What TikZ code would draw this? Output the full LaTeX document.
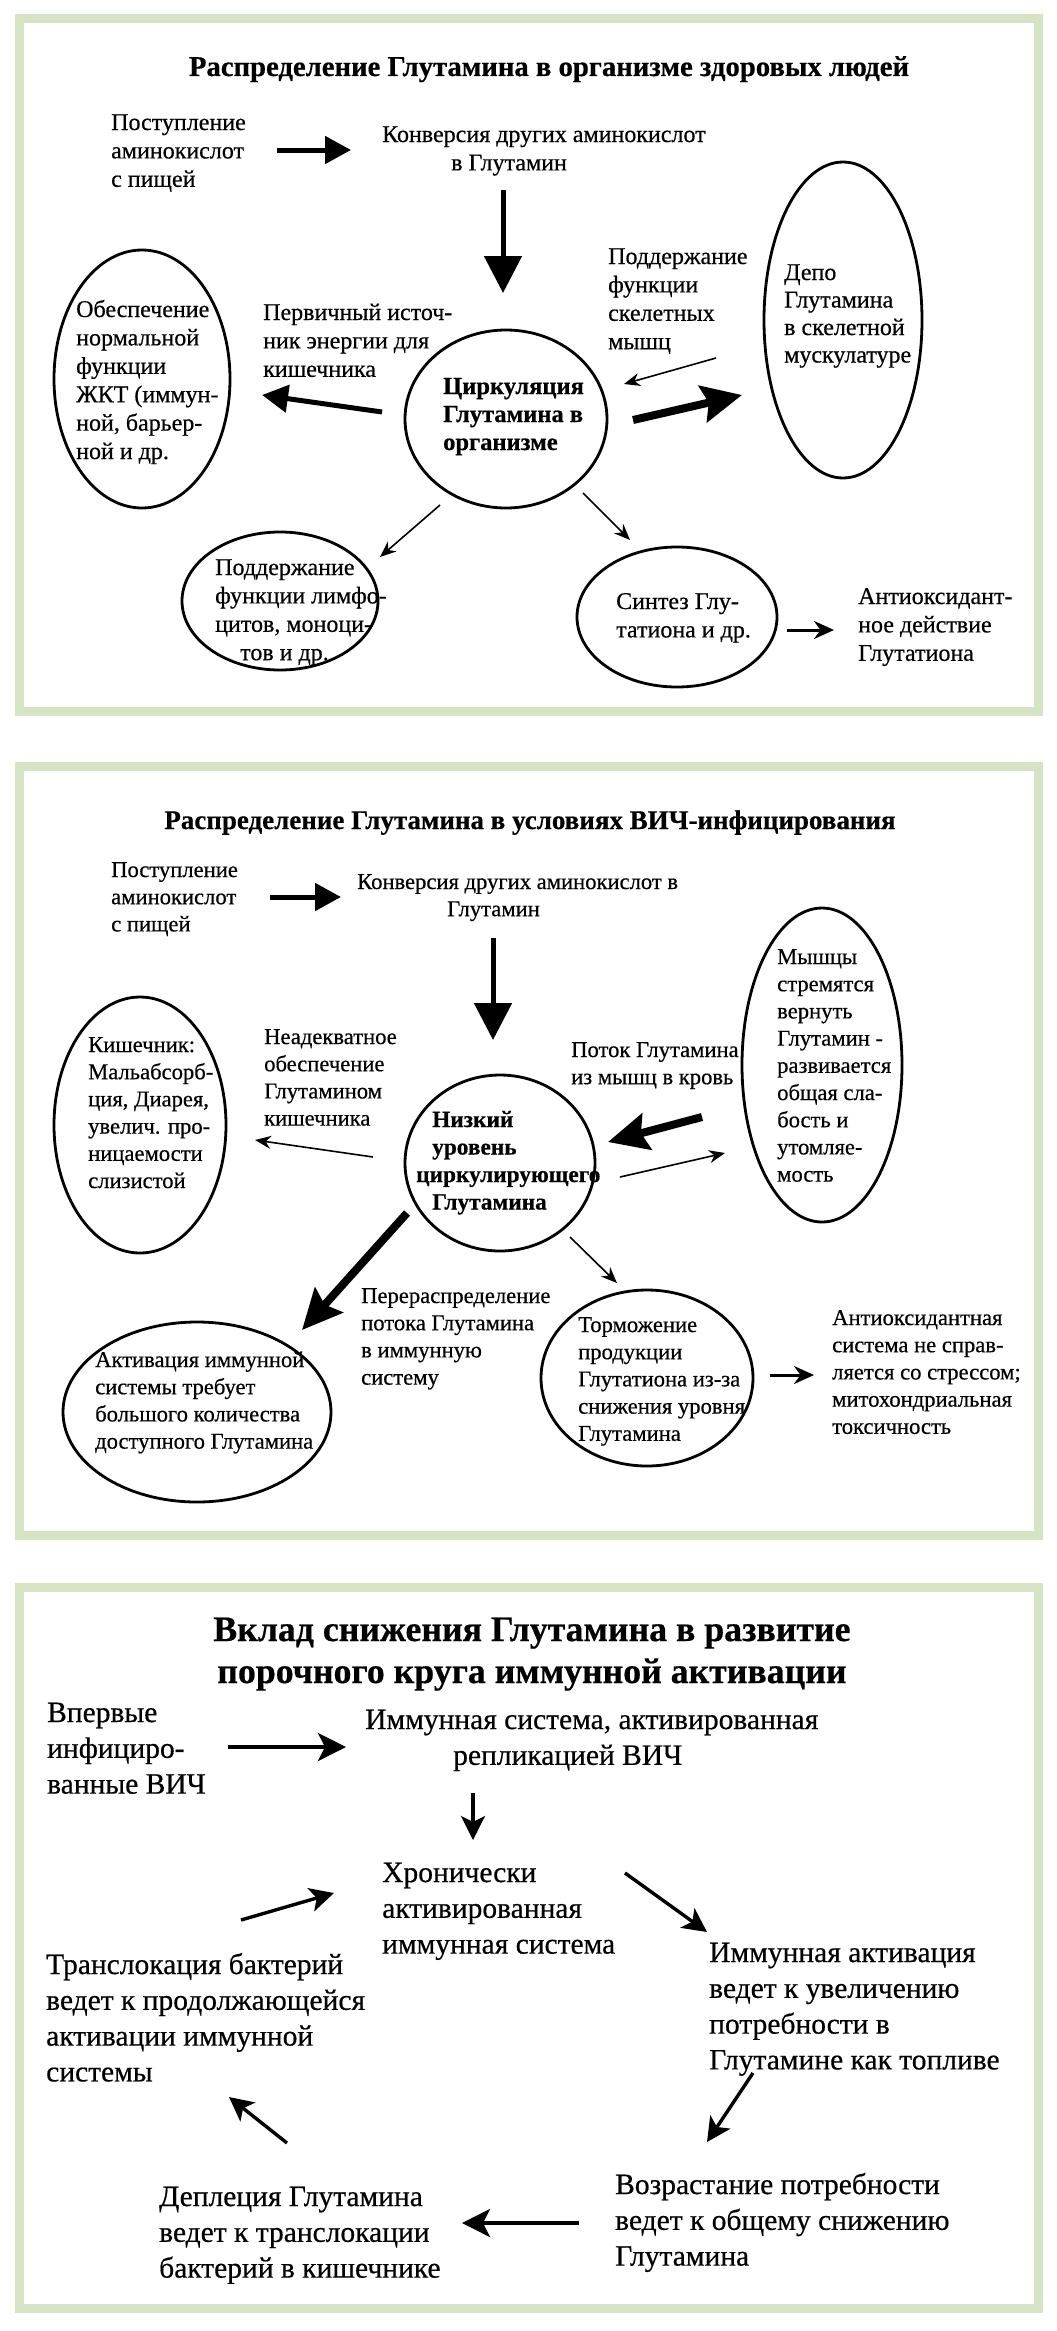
\documentclass[tikz,border=0pt]{standalone}
\usepackage{fontspec}
\setmainfont{Liberation Serif}[FakeBold=0.5]
\usetikzlibrary{arrows.meta,shapes.geometric}
\definecolor{panelgreen}{RGB}{214,227,196}
\newcommand\TL[1]{\begin{tabular}[t]{@{}l@{}}#1\end{tabular}}
\newcommand\TC[1]{\begin{tabular}[t]{@{}c@{}}#1\end{tabular}}
\newcommand\fA{\fontsize{24}{28.4}\selectfont}
\newcommand\fAr{\fontsize{24}{27.5}\selectfont}
\newcommand\fAb{\fontsize{24.5}{28}\selectfont\bfseries}
\newcommand\fB{\fontsize{22.6}{27.2}\selectfont}
\newcommand\fBb{\fontsize{23.3}{27.5}\selectfont\bfseries}
\newcommand\fC{\fontsize{29.5}{35.8}\selectfont}
\newcommand\fTa{\fontsize{28.7}{30}\selectfont\bfseries}
\newcommand\fTb{\fontsize{27}{30}\selectfont\bfseries}
\newcommand\fTc{\fontsize{35.8}{42}\selectfont\bfseries}
\begin{document}
\begin{tikzpicture}[x=1pt,y=-1pt,
  txt/.style={inner sep=0pt, anchor=base west},
  ttl/.style={inner sep=0pt, anchor=base},
  ell/.style={draw, ellipse, line width=2.8pt, inner sep=0pt},
  panel/.style={draw=panelgreen, line width=9pt},
  athin/.style={line width=1.6pt, -{Stealth[length=16pt,width=13pt]}},
  amed/.style={line width=3pt, -{Stealth[length=20pt,width=18pt]}},
  athick/.style={line width=5pt, -{Triangle[length=26pt,width=27pt]}},
  adown/.style={line width=5pt, -{Triangle[length=37pt,width=37pt]}},
  avthick/.style={line width=8pt, -{Stealth[length=40pt,width=37pt,inset=6pt]}},
  acyc/.style={line width=4pt, -{Stealth[length=28pt,width=28pt,inset=7pt]}},
  acycm/.style={line width=3.4pt, -{Stealth[length=24pt,width=24pt,inset=6pt]}}]
\useasboundingbox (0,0) rectangle (1057,2331);
\fill[white] (0,0) rectangle (1057,2331);
% panels
\draw[panel] (19.5,18.5) rectangle (1038.5,711.5);
\draw[panel] (19.5,766.5) rectangle (1038.5,1535.5);
\draw[panel] (19.5,1587.5) rectangle (1038.5,2308.5);

% ---------------- Panel 1 ----------------
\node[ttl, font=\fTa] (t1) at (549,76) {Распределение Глутамина в организме здоровых людей};
\node[txt, font=\fA] (p1in) at (111,130) {\TL{Поступление\\аминокислот\\с пищей}};
\node[txt, font=\fA] (p1conv) at (382,142) {\TL{Конверсия других аминокислот\\\hspace*{69pt}в Глутамин}};
\node[ell, minimum width=202pt, minimum height=178pt] (c1) at (506,419) {};
\node[txt, font=\fAb] (c1t) at (443,394) {\TL{Циркуляция\\Глутамина в\\организме}};
\node[ell, minimum width=176pt, minimum height=258pt] (L1) at (142,379) {};
\node[txt, font=\fA] (L1t) at (76,317) {\TL{Обеспечение\\нормальной\\функции\\ЖКТ (иммун-\\ной, барьер-\\ной и др.}};
\node[txt, font=\fA] (p1en) at (263,320) {\TL{Первичный источ-\\ник энергии для\\кишечника}};
\node[txt, font=\fA] (p1mus) at (608,264) {\TL{Поддержание\\функции\\скелетных\\мышц}};
\node[ell, minimum width=158pt, minimum height=316pt] (R1) at (843,320) {};
\node[txt, font=\fAr] (R1t) at (784,280) {\TL{Депо\\Глутамина\\в скелетной\\мускулатуре}};
\node[ell, minimum width=196pt, minimum height=138pt] (LL1) at (280,601) {};
\node[txt, font=\fA] (LL1t) at (215,575) {\TL{Поддержание\\функции лимфо-\\цитов, моноци-\\\hspace*{25pt}тов и др.}};
\node[ell, minimum width=200pt, minimum height=140pt] (LR1) at (677,617) {};
\node[txt, font=\fA] (LR1t) at (616,609) {\TL{Синтез Глу-\\татиона и др.}};
\node[txt, font=\fA] (p1anti) at (858,604) {\TL{Антиоксидант-\\ное действие\\Глутатиона}};

\draw[athick] ([shift={(166,20)}]p1in.base west) -- ([shift={(-31,8)}]p1conv.base west);
\draw[adown] ([shift={(121,48)}]p1conv.base west) -- ([shift={(-3,-126)}]c1.center);
\draw[athick] ([shift={(-124,-7)}]c1.center) -- ([shift={(120,16)}]L1.center);
\draw[athin] ([shift={(-127,38)}]R1.center) -- ([shift={(118,-35)}]c1.center);
\draw[avthick] ([shift={(127,1)}]c1.center) -- ([shift={(-101,75)}]R1.center);
\draw[athin] ([shift={(-66,86)}]c1.center) -- ([shift={(100,-44)}]LL1.center);
\draw[athin] ([shift={(77,74)}]c1.center) -- ([shift={(-47,-77)}]LR1.center);
\draw[amed] ([shift={(110,13)}]LR1.center) -- ([shift={(-24,26)}]p1anti.base west);

% ---------------- Panel 2 ----------------
\node[ttl, font=\fTb] (t2) at (530,829) {Распределение Глутамина в условиях ВИЧ-инфицирования};
\node[txt, font=\fB] (p2in) at (111,877) {\TL{Поступление\\аминокислот\\с пищей}};
\node[txt, font=\fB] (p2conv) at (357,889) {\TL{Конверсия других аминокислот в\\\hspace*{90pt}Глутамин}};
\node[ell, minimum width=172pt, minimum height=256pt] (L2) at (140,1125) {};
\node[txt, font=\fB] (L2t) at (88,1052) {\TL{Кишечник:\\Мальабсорб-\\ция, Диарея,\\увелич. про-\\ницаемости\\слизистой}};
\node[txt, font=\fB] (p2inad) at (264,1044) {\TL{Неадекватное\\обеспечение\\Глутамином\\кишечника}};
\node[ell, minimum width=190pt, minimum height=176pt] (C2) at (500,1163) {};
\node[txt, font=\fBb] (C2t) at (416,1127) {\TL{\hspace*{16pt}Низкий\\\hspace*{16pt}уровень\\циркулирующего\\\hspace*{16pt}Глутамина}};
\node[txt, font=\fB] (p2flow) at (571,1057) {\TL{Поток Глутамина\\из мышц в кровь}};
\node[ell, minimum width=160pt, minimum height=314pt] (R2) at (822,1065) {};
\node[txt, font=\fB] (R2t) at (777,964) {\TL{Мышцы\\стремятся\\вернуть\\Глутамин -\\развивается\\общая сла-\\бость и\\утомляе-\\мость}};
\node[txt, font=\fB] (p2redis) at (361,1303) {\TL{Перераспределение\\потока Глутамина\\в иммунную\\систему}};
\node[ell, minimum width=268pt, minimum height=180pt] (LL2) at (197,1412) {};
\node[txt, font=\fB] (LL2t) at (95,1367) {\TL{Активация иммунной\\системы требует\\большого количества\\доступного Глутамина}};
\node[ell, minimum width=212pt, minimum height=176pt] (LR2) at (647,1378) {};
\node[txt, font=\fB] (LR2t) at (578,1332) {\TL{Торможение\\продукции\\Глутатиона из-за\\снижения уровня\\Глутамина}};
\node[txt, font=\fB] (p2anti) at (832,1325) {\TL{Антиоксидантная\\система не справ-\\ляется со стрессом;\\митохондриальная\\токсичность}};

\draw[athick] ([shift={(159,20)}]p2in.base west) -- ([shift={(-16,8)}]p2conv.base west);
\draw[adown] ([shift={(136,49)}]p2conv.base west) -- ([shift={(-7,-123)}]C2.center);
\draw[athin] ([shift={(-127,-6)}]C2.center) -- ([shift={(115,15)}]L2.center);
\draw[avthick] ([shift={(-120,52)}]R2.center) -- ([shift={(108,-21)}]C2.center);
\draw[athin] ([shift={(120,14)}]C2.center) -- ([shift={(-97,88)}]R2.center);
\draw[avthick] ([shift={(-93,50)}]C2.center) -- ([shift={(105,-82)}]LL2.center);
\draw[athin] ([shift={(70,74)}]C2.center) -- ([shift={(-30,-95)}]LR2.center);
\draw[amed] ([shift={(123,-3)}]LR2.center) -- ([shift={(-18,50)}]p2anti.base west);

% ---------------- Panel 3 ----------------
\node[ttl, font=\fTc] (t3) at (532,1641) {\TC{Вклад снижения Глутамина в развитие\\порочного круга иммунной активации}};
\node[txt, font=\fC] (p3first) at (47,1722) {\TL{Впервые\\инфициро-\\ванные ВИЧ}};
\node[txt, font=\fC] (p3imm) at (365,1729) {\TL{Иммунная система, активированная\\\hspace*{88pt}репликацией ВИЧ}};
\node[txt, font=\fC] (p3chron) at (382,1882) {\TL{Хронически\\активированная\\иммунная система}};
\node[txt, font=\fC] (p3iact) at (709,1962) {\TL{Иммунная активация\\ведет к увеличению\\потребности в\\Глутамине как топливе}};
\node[txt, font=\fC] (p3vozr) at (615,2194) {\TL{Возрастание потребности\\ведет к общему снижению\\Глутамина}};
\node[txt, font=\fC] (p3depl) at (159,2206) {\TL{Деплеция Глутамина\\ведет к транслокации\\бактерий в кишечнике}};
\node[txt, font=\fC] (p3trans) at (46,1974) {\TL{Транслокация бактерий\\ведет к продолжающейся\\активации иммунной\\системы}};

\draw[acyc] ([shift={(181,25)}]p3first.base west) -- ([shift={(-19,18)}]p3imm.base west);
\draw[acycm] ([shift={(108,64)}]p3imm.base west) -- ([shift={(91,-42)}]p3chron.base west);
\draw[acycm] ([shift={(243,-9)}]p3chron.base west) -- ([shift={(-2,-30)}]p3iact.base west);
\draw[acycm] ([shift={(44,111)}]p3iact.base west) -- ([shift={(92,-52)}]p3vozr.base west);
\draw[acyc] ([shift={(-36,29)}]p3vozr.base west) -- ([shift={(303,17)}]p3depl.base west);
\draw[acycm] ([shift={(128,-63)}]p3depl.base west) -- ([shift={(183,123)}]p3trans.base west);
\draw[acycm] ([shift={(195,-54)}]p3trans.base west) -- ([shift={(-48,11)}]p3chron.base west);
\end{tikzpicture}
\end{document}
